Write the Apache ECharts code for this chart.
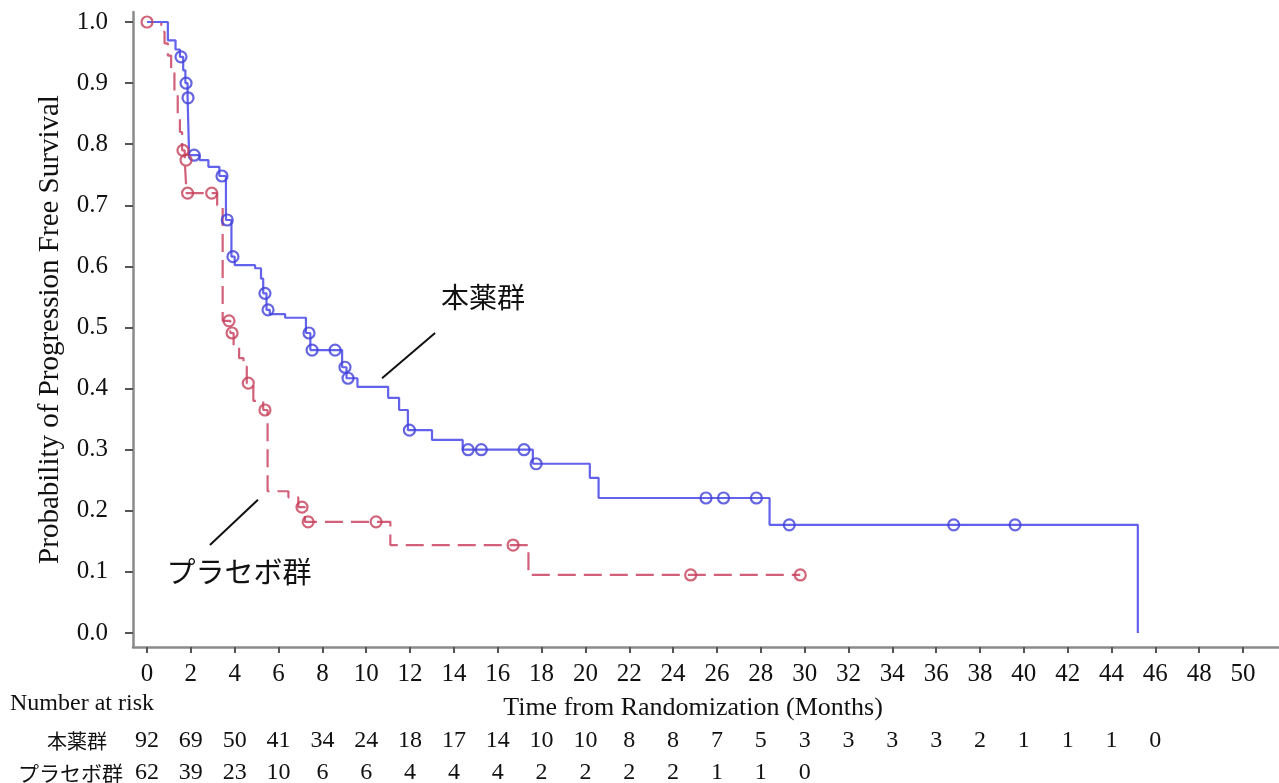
<!DOCTYPE html>
<html>
<head>
<meta charset="utf-8">
<script src="https://cdn.jsdelivr.net/npm/echarts@6/dist/echarts.min.js"></script>
<style>
  html, body { margin: 0; padding: 0; background: #fff; }
  #chart { width: 1279px; height: 783px; }
</style>
</head>
<body>
<div id="chart"></div>
<script>
// 本薬群: times (months) where the KM curve changes, and survival from that time on
const drugTimes = [0, 0.95, 1.3, 1.5, 1.65, 1.75, 1.85, 1.92, 2.4, 2.8, 3.3, 3.6, 3.85, 4.0, 4.93, 5.2, 5.3, 5.45, 5.6, 6.3, 7.25, 7.45, 8.9, 9.1, 9.6, 11.0, 11.5, 11.9, 13.0, 14.4, 17.6, 20.2, 20.6, 28.4, 45.2]
const drugSurv = [1.0, 0.97, 0.955, 0.943, 0.921, 0.90, 0.876, 0.782, 0.774, 0.763, 0.748, 0.676, 0.616, 0.602, 0.597, 0.58, 0.556, 0.529, 0.522, 0.516, 0.491, 0.463, 0.435, 0.417, 0.403, 0.385, 0.365, 0.332, 0.316, 0.30, 0.277, 0.254, 0.221, 0.177, 0]
// 本薬群 censored
const drugCensorTimes = [1.55, 1.78, 1.87, 2.15, 3.42, 3.66, 3.92, 5.38, 5.52, 7.39, 7.53, 8.58, 9.03, 9.17, 11.97, 14.65, 15.25, 17.2, 17.75, 25.5, 26.3, 27.8, 29.3, 36.8, 39.6]
const drugCensorSurv = [0.943, 0.90, 0.876, 0.782, 0.748, 0.676, 0.616, 0.556, 0.529, 0.491, 0.463, 0.463, 0.435, 0.417, 0.332, 0.30, 0.30, 0.30, 0.277, 0.221, 0.221, 0.221, 0.177, 0.177, 0.177]

// プラセボ群
const placeboTimes = [0, 0.65, 0.8, 0.95, 1.1, 1.25, 1.4, 1.5, 1.6, 1.72, 1.8, 3.2, 3.45, 3.8, 3.95, 4.2, 4.4, 4.55, 4.85, 5.3, 5.5, 6.45, 6.9, 7.2, 11.1, 17.4, 29.8]
const placeboSurv = [1.0, 0.984, 0.965, 0.945, 0.92, 0.885, 0.85, 0.82, 0.79, 0.774, 0.72, 0.70, 0.511, 0.491, 0.47, 0.45, 0.436, 0.409, 0.38, 0.365, 0.232, 0.222, 0.206, 0.182, 0.144, 0.095, 0.095]
const placeboCensorTimes = [0, 1.64, 1.78, 1.85, 2.95, 3.74, 3.88, 4.62, 5.38, 7.07, 7.35, 10.45, 16.7, 24.8, 29.8]
const placeboCensorSurv = [1.0, 0.79, 0.774, 0.72, 0.72, 0.511, 0.491, 0.409, 0.365, 0.206, 0.182, 0.182, 0.144, 0.095, 0.095]

// 軸目盛
const xTicks = [0, 2, 4, 6, 8, 10, 12, 14, 16, 18, 20, 22, 24, 26, 28, 30, 32, 34, 36, 38, 40, 42, 44, 46, 48, 50]
const yTicks = [0, 0.1, 0.2, 0.3, 0.4, 0.5, 0.6, 0.7, 0.8, 0.9, 1.0]

// Number at risk
const riskDrug = [92, 69, 50, 41, 34, 24, 18, 17, 14, 10, 10, 8, 8, 7, 5, 3, 3, 3, 3, 2, 1, 1, 1, 0]
const riskPlacebo = [62, 39, 23, 10, 6, 6, 4, 4, 4, 2, 2, 2, 2, 1, 1, 0]

const serif = "'Liberation Serif', 'Times New Roman', serif"
const cjk = "'Noto Sans CJK JP', sans-serif"

const blue = '#6262ec'
const blueMark = '#4040da'
const red = '#d2607a'
const redMark = '#c63e58'

const zip = (xs, ys) => xs.map((x, i) => [x, ys[i]])

const xMin = -0.64
const xMax = 51.64

// 軸（リスク表用の追加軸）
const riskAxis = (values, offset) => ({
  type: 'value',
  gridIndex: 0,
  position: 'bottom',
  min: xMin,
  max: xMax,
  offset: offset,
  axisLine: { show: false },
  axisTick: { show: false },
  splitLine: { show: false },
  axisLabel: {
    customValues: xTicks.slice(0, values.length),
    formatter: v => String(values[xTicks.indexOf(v)]),
    margin: 0,
    fontFamily: serif,
    fontSize: 24,
    color: '#111'
  }
})

const chart = echarts.init(document.getElementById('chart'))

chart.setOption({
  animation: false,
  backgroundColor: '#fff',
  grid: { left: 133, right: 0, top: 12, bottom: 136, containLabel: false, outerBoundsMode: 'none' },
  xAxis: [
    {
      type: 'value',
      min: xMin,
      max: xMax,
      axisLine: { onZero: false, lineStyle: { color: '#8a8a8a', width: 2.5 } },
      axisTick: { customValues: xTicks, length: 6, lineStyle: { color: '#555', width: 2 } },
      axisLabel: { customValues: xTicks, margin: 15, fontFamily: serif, fontSize: 25, color: '#111' },
      splitLine: { show: false }
    },
    riskAxis(riskDrug, 82),
    riskAxis(riskPlacebo, 114)
  ],
  yAxis: {
    type: 'value',
    min: -0.0229,
    max: 1.0164,
    name: 'Probability of Progression Free Survival',
    nameLocation: 'middle',
    nameRotate: 90,
    nameGap: 68,
    nameTextStyle: { fontFamily: serif, fontSize: 29, color: '#111' },
    axisLine: { onZero: false, lineStyle: { color: '#8a8a8a', width: 2.5 } },
    axisTick: { customValues: yTicks, length: 8, lineStyle: { color: '#555', width: 2 } },
    axisLabel: {
      customValues: yTicks,
      formatter: v => v.toFixed(1),
      margin: 25,
      fontFamily: serif,
      fontSize: 25,
      color: '#111'
    },
    splitLine: { show: false }
  },
  series: [
    {
      name: '本薬群',
      type: 'line',
      step: 'end',
      data: zip(drugTimes, drugSurv),
      symbol: 'none',
      lineStyle: { color: blue, width: 2.2 },
      z: 3,
      markLine: {
        silent: true,
        symbol: ['none', 'none'],
        label: { show: false },
        lineStyle: { color: '#111', width: 2, type: 'solid' },
        data: [
          [{ coord: [10.72, 0.417] }, { coord: [13.14, 0.491] }],
          [{ coord: [2.87, 0.144] }, { coord: [5.06, 0.218] }]
        ]
      }
    },
    {
      name: '本薬群 censored',
      type: 'scatter',
      data: zip(drugCensorTimes, drugCensorSurv),
      symbol: 'circle',
      symbolSize: 11,
      itemStyle: { color: 'rgba(255,255,255,0)', borderColor: blueMark, borderWidth: 2.2 },
      z: 4
    },
    {
      name: 'プラセボ群',
      type: 'line',
      step: 'end',
      data: zip(placeboTimes, placeboSurv),
      symbol: 'none',
      lineStyle: { color: red, width: 2.2, type: [18, 8] },
      z: 2
    },
    {
      name: 'プラセボ群 censored',
      type: 'scatter',
      data: zip(placeboCensorTimes, placeboCensorSurv),
      symbol: 'circle',
      symbolSize: 11,
      itemStyle: { color: 'rgba(255,255,255,0)', borderColor: redMark, borderWidth: 2.2 },
      z: 4
    }
  ],
  graphic: [
    { type: 'text', x: 483, y: 297, style: { text: '本薬群', font: '28px ' + cjk, fill: '#111', textAlign: 'center', textVerticalAlign: 'middle' } },
    { type: 'text', x: 239, y: 572, style: { text: 'プラセボ群', font: '29px ' + cjk, fill: '#111', textAlign: 'center', textVerticalAlign: 'middle' } },
    { type: 'text', x: 10, y: 704, style: { text: 'Number at risk', font: '24px ' + serif, fill: '#111', textAlign: 'left', textVerticalAlign: 'middle' } },
    { type: 'text', x: 693, y: 708, style: { text: 'Time from Randomization (Months)', font: '26px ' + serif, fill: '#111', textAlign: 'center', textVerticalAlign: 'middle' } },
    { type: 'text', x: 47, y: 741, style: { text: '本薬群', font: '20px ' + cjk, fill: '#111', textAlign: 'left', textVerticalAlign: 'middle' } },
    { type: 'text', x: 18, y: 773, style: { text: 'プラセボ群', font: '21px ' + cjk, fill: '#111', textAlign: 'left', textVerticalAlign: 'middle' } }
  ]
})
</script>
</body>
</html>
